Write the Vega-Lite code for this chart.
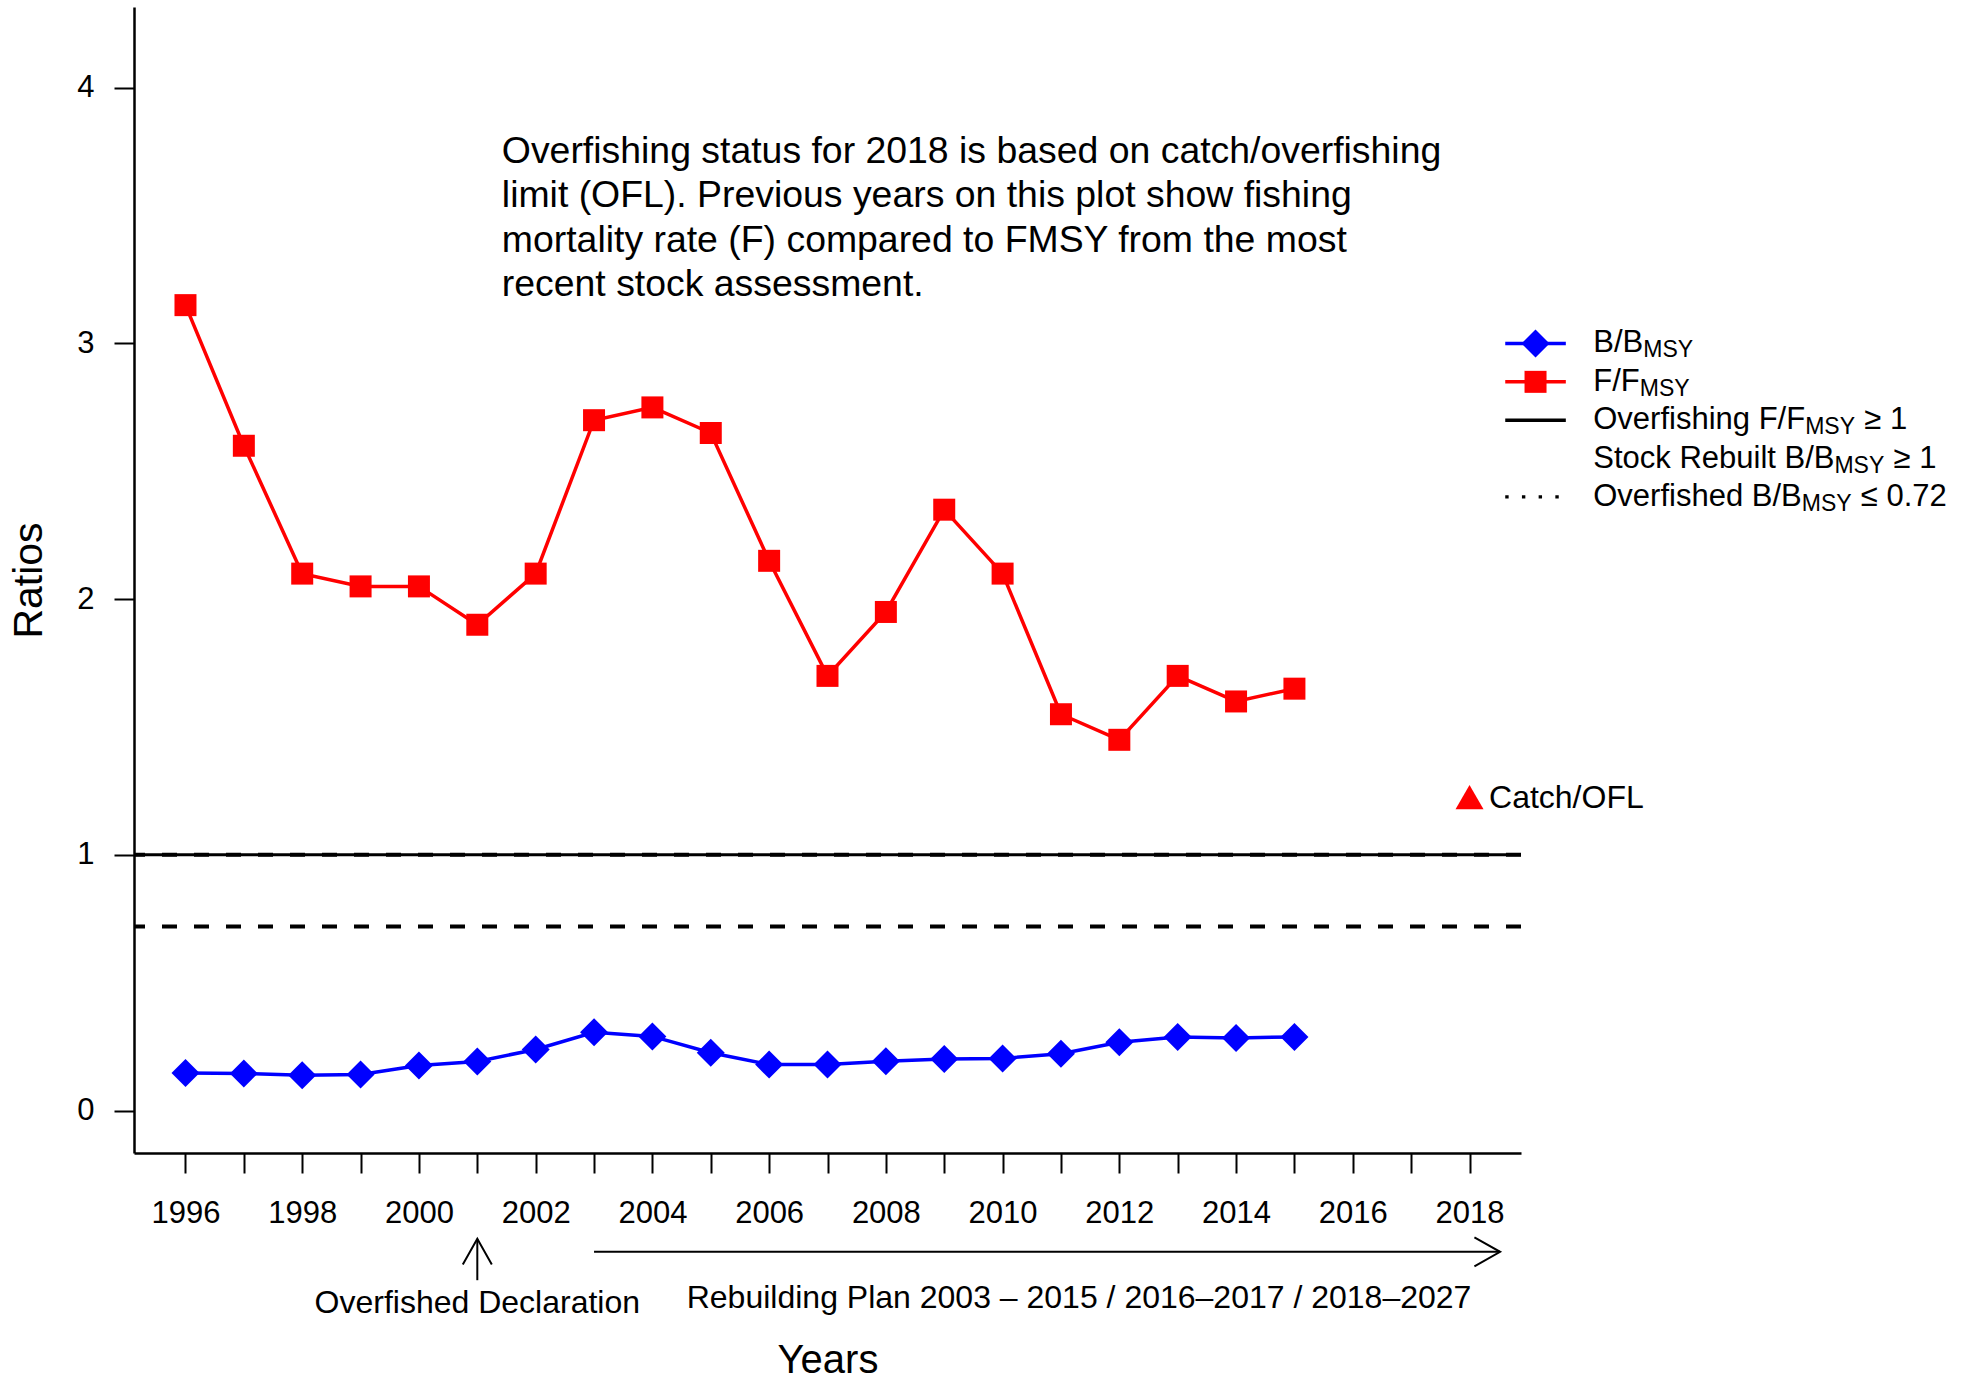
{
  "$schema": "https://vega.github.io/schema/vega-lite/v6.json",
  "width": 1387,
  "height": 1146,
  "autosize": {"type": "none"},
  "padding": {"left": 134, "top": 7, "right": 454, "bottom": 228},
  "background": "white",
  "config": {"view": {"stroke": null}, "font": "Liberation Sans", "text": {"font": "Liberation Sans", "color": "black"}},
  "datasets": {
    "series": [
      {"year": 1996, "series": "F/FMSY", "value": 3.15},
      {"year": 1997, "series": "F/FMSY", "value": 2.60},
      {"year": 1998, "series": "F/FMSY", "value": 2.10},
      {"year": 1999, "series": "F/FMSY", "value": 2.05},
      {"year": 2000, "series": "F/FMSY", "value": 2.05},
      {"year": 2001, "series": "F/FMSY", "value": 1.90},
      {"year": 2002, "series": "F/FMSY", "value": 2.10},
      {"year": 2003, "series": "F/FMSY", "value": 2.70},
      {"year": 2004, "series": "F/FMSY", "value": 2.75},
      {"year": 2005, "series": "F/FMSY", "value": 2.65},
      {"year": 2006, "series": "F/FMSY", "value": 2.15},
      {"year": 2007, "series": "F/FMSY", "value": 1.70},
      {"year": 2008, "series": "F/FMSY", "value": 1.95},
      {"year": 2009, "series": "F/FMSY", "value": 2.35},
      {"year": 2010, "series": "F/FMSY", "value": 2.10},
      {"year": 2011, "series": "F/FMSY", "value": 1.55},
      {"year": 2012, "series": "F/FMSY", "value": 1.45},
      {"year": 2013, "series": "F/FMSY", "value": 1.70},
      {"year": 2014, "series": "F/FMSY", "value": 1.60},
      {"year": 2015, "series": "F/FMSY", "value": 1.65},
      {"year": 1996, "series": "B/BMSY", "value": 0.147},
      {"year": 1997, "series": "B/BMSY", "value": 0.145},
      {"year": 1998, "series": "B/BMSY", "value": 0.138},
      {"year": 1999, "series": "B/BMSY", "value": 0.141},
      {"year": 2000, "series": "B/BMSY", "value": 0.176},
      {"year": 2001, "series": "B/BMSY", "value": 0.192},
      {"year": 2002, "series": "B/BMSY", "value": 0.239},
      {"year": 2003, "series": "B/BMSY", "value": 0.306},
      {"year": 2004, "series": "B/BMSY", "value": 0.290},
      {"year": 2005, "series": "B/BMSY", "value": 0.226},
      {"year": 2006, "series": "B/BMSY", "value": 0.180},
      {"year": 2007, "series": "B/BMSY", "value": 0.180},
      {"year": 2008, "series": "B/BMSY", "value": 0.193},
      {"year": 2009, "series": "B/BMSY", "value": 0.202},
      {"year": 2010, "series": "B/BMSY", "value": 0.204},
      {"year": 2011, "series": "B/BMSY", "value": 0.222},
      {"year": 2012, "series": "B/BMSY", "value": 0.267},
      {"year": 2013, "series": "B/BMSY", "value": 0.288},
      {"year": 2014, "series": "B/BMSY", "value": 0.284},
      {"year": 2015, "series": "B/BMSY", "value": 0.288}
    ]
  },
  "layer": [
    {
      "data": {"name": "series"},
      "mark": {"type": "line", "strokeWidth": 3.5},
      "encoding": {
        "x": {
          "field": "year", "type": "quantitative",
          "scale": {"domain": [1995.118, 2018.882], "nice": false, "zero": false},
          "axis": {
            "title": "Years",
            "values": [1996, 1997, 1998, 1999, 2000, 2001, 2002, 2003, 2004, 2005, 2006, 2007, 2008, 2009, 2010, 2011, 2012, 2013, 2014, 2015, 2016, 2017, 2018],
            "format": "d",
            "labelExpr": "datum.value % 2 === 0 ? datum.label : ''",
            "labelOverlap": false, "labelFlush": false, "labelBound": false,
            "labelFontSize": 31, "labelColor": "black", "labelPadding": 25, "labelFont": "Liberation Sans",
            "tickSize": 20, "tickWidth": 2, "tickColor": "black",
            "domainColor": "black", "domainWidth": 2.5,
            "grid": false,
            "titleFontSize": 40, "titleFontWeight": "normal", "titleColor": "black", "titlePadding": 112, "titleFont": "Liberation Sans"
          }
        },
        "y": {
          "field": "value", "type": "quantitative",
          "scale": {"domain": [-0.166, 4.316], "nice": false, "zero": false},
          "axis": {
            "title": "Ratios",
            "values": [0, 1, 2, 3, 4],
            "format": "d",
            "labelOverlap": false, "labelFlush": false, "labelBound": false,
            "labelFontSize": 31, "labelColor": "black", "labelPadding": 20, "labelFont": "Liberation Sans",
            "tickSize": 20, "tickWidth": 2, "tickColor": "black",
            "domainColor": "black", "domainWidth": 2.5,
            "grid": false,
            "titleFontSize": 41, "titleFontWeight": "normal", "titleColor": "black", "titlePadding": 26, "titleFont": "Liberation Sans"
          }
        },
        "color": {"field": "series", "type": "nominal", "scale": {"domain": ["B/BMSY", "F/FMSY"], "range": ["#0000FF", "#FF0000"]}, "legend": null}
      }
    },
    {
      "data": {"name": "series"},
      "transform": [{"filter": "datum.series === 'F/FMSY'"}],
      "mark": {"type": "point", "shape": "square", "filled": true, "size": 484, "opacity": 1, "color": "#FF0000"},
      "encoding": {
        "x": {"field": "year", "type": "quantitative"},
        "y": {"field": "value", "type": "quantitative"}
      }
    },
    {
      "data": {"name": "series"},
      "transform": [{"filter": "datum.series === 'B/BMSY'"}],
      "mark": {"type": "point", "shape": "diamond", "filled": true, "size": 784, "opacity": 1, "color": "#0000FF"},
      "encoding": {
        "x": {"field": "year", "type": "quantitative"},
        "y": {"field": "value", "type": "quantitative"}
      }
    },
    {
      "data": {"values": [{"ref": "Overfishing F/FMSY ≥ 1"}]},
      "mark": {"type": "rule", "color": "black", "strokeWidth": 3},
      "encoding": {"y": {"datum": 1, "type": "quantitative"}}
    },
    {
      "data": {"values": [{"ref": "Stock Rebuilt B/BMSY ≥ 1"}]},
      "mark": {"type": "rule", "color": "black", "strokeWidth": 4, "strokeDash": [15, 17]},
      "encoding": {"y": {"datum": 1, "type": "quantitative"}}
    },
    {
      "data": {"values": [{"ref": "Overfished B/BMSY ≤ 0.72"}]},
      "mark": {"type": "rule", "color": "black", "strokeWidth": 4, "strokeDash": [15, 17]},
      "encoding": {"y": {"datum": 0.72, "type": "quantitative"}}
    },
    {
      "data": {"values": [{"label": "Catch/OFL"}]},
      "mark": {"type": "point", "shape": "triangle-up", "filled": true, "size": 784, "opacity": 1, "color": "#FF0000"},
      "encoding": {"x": {"datum": 2018, "type": "quantitative"}, "y": {"datum": 1.226, "type": "quantitative"}}
    },
    {
      "data": {"values": [{"label": "Catch/OFL"}]},
      "mark": {"type": "text", "align": "left", "baseline": "middle", "dx": 19.5, "dy": 1, "fontSize": 32},
      "encoding": {"x": {"datum": 2018, "type": "quantitative"}, "y": {"datum": 1.226, "type": "quantitative"}, "text": {"field": "label"}}
    },
    {
      "data": {"values": [{"note": "Overfishing status for 2018 is based on catch/overfishing\nlimit (OFL). Previous years on this plot show fishing\nmortality rate (F) compared to FMSY from the most\nrecent stock assessment."}]},
      "mark": {"type": "text", "align": "left", "baseline": "alphabetic", "fontSize": 37.4, "lineBreak": "\n", "lineHeight": 44.5},
      "encoding": {"x": {"datum": 2001.42, "type": "quantitative"}, "y": {"datum": 3.706, "type": "quantitative"}, "text": {"field": "note"}}
    },
    {
      "data": {"values": [{"note": "Overfished Declaration"}]},
      "mark": {"type": "text", "align": "center", "baseline": "alphabetic", "fontSize": 32},
      "encoding": {"x": {"datum": 2001, "type": "quantitative"}, "y": {"datum": -0.79, "type": "quantitative"}, "text": {"field": "note"}}
    },
    {
      "data": {"values": [{"note": "Rebuilding Plan 2003 – 2015 / 2016–2017 / 2018–2027"}]},
      "mark": {"type": "text", "align": "center", "baseline": "alphabetic", "fontSize": 32},
      "encoding": {"x": {"datum": 2011.31, "type": "quantitative"}, "y": {"datum": -0.774, "type": "quantitative"}, "text": {"field": "note"}}
    },
    {
      "data": {"values": [{"note": "Overfished Declaration arrow"}]},
      "mark": {"type": "rule", "color": "black", "strokeWidth": 2},
      "encoding": {"x": {"datum": 2001, "type": "quantitative"}, "y": {"datum": -0.5017, "type": "quantitative"}, "y2": {"datum": -0.6635}}
    },
    {
      "data": {"values": [{"note": "Overfished Declaration arrow head"}]},
      "mark": {"type": "point", "shape": "M-1,1.772L0,0L1,1.772", "filled": false, "size": 841, "opacity": 1, "color": "black", "strokeWidth": 2},
      "encoding": {"x": {"datum": 2001, "type": "quantitative"}, "y": {"datum": -0.5017, "type": "quantitative"}}
    },
    {
      "data": {"values": [{"note": "Rebuilding Plan arrow"}]},
      "mark": {"type": "rule", "color": "black", "strokeWidth": 2},
      "encoding": {"x": {"datum": 2003, "type": "quantitative"}, "x2": {"datum": 2018.524}, "y": {"datum": -0.5525, "type": "quantitative"}}
    },
    {
      "data": {"values": [{"note": "Rebuilding Plan arrow head"}]},
      "mark": {"type": "point", "shape": "M-1.772,-1L0,0L-1.772,1", "filled": false, "size": 841, "opacity": 1, "color": "black", "strokeWidth": 2},
      "encoding": {"x": {"datum": 2018.524, "type": "quantitative"}, "y": {"datum": -0.5525, "type": "quantitative"}}
    },
    {
      "data": {"values": [{"key": "B/BMSY"}]},
      "mark": {"type": "rule", "color": "#0000FF", "strokeWidth": 3.5},
      "encoding": {"x": {"datum": 2018.612, "type": "quantitative"}, "x2": {"datum": 2019.65}, "y": {"datum": 3.0, "type": "quantitative"}}
    },
    {
      "data": {"values": [{"key": "B/BMSY"}]},
      "mark": {"type": "point", "shape": "diamond", "filled": true, "size": 784, "opacity": 1, "color": "#0000FF"},
      "encoding": {"x": {"datum": 2019.131, "type": "quantitative"}, "y": {"datum": 3.0, "type": "quantitative"}}
    },
    {
      "data": {"values": [{"key": "F/FMSY"}]},
      "mark": {"type": "rule", "color": "#FF0000", "strokeWidth": 3.5},
      "encoding": {"x": {"datum": 2018.612, "type": "quantitative"}, "x2": {"datum": 2019.65}, "y": {"datum": 2.85, "type": "quantitative"}}
    },
    {
      "data": {"values": [{"key": "F/FMSY"}]},
      "mark": {"type": "point", "shape": "square", "filled": true, "size": 484, "opacity": 1, "color": "#FF0000"},
      "encoding": {"x": {"datum": 2019.131, "type": "quantitative"}, "y": {"datum": 2.85, "type": "quantitative"}}
    },
    {
      "data": {"values": [{"key": "Overfishing"}]},
      "mark": {"type": "rule", "color": "black", "strokeWidth": 3.5},
      "encoding": {"x": {"datum": 2018.612, "type": "quantitative"}, "x2": {"datum": 2019.65}, "y": {"datum": 2.70, "type": "quantitative"}}
    },
    {
      "data": {"values": [{"key": "Overfished"}]},
      "mark": {"type": "rule", "color": "black", "strokeWidth": 3.4, "strokeDash": [3.4, 13.3]},
      "encoding": {"x": {"datum": 2018.612, "type": "quantitative"}, "x2": {"datum": 2019.65}, "y": {"datum": 2.40, "type": "quantitative"}}
    },
    {
      "data": {"values": [{"t": "B/B"}]},
      "mark": {"type": "text", "align": "left", "baseline": "middle", "fontSize": 31},
      "encoding": {"x": {"datum": 2020.12, "type": "quantitative"}, "y": {"datum": 3.0, "type": "quantitative"}, "text": {"field": "t"}}
    },
    {
      "data": {"values": [{"t": "F/F"}]},
      "mark": {"type": "text", "align": "left", "baseline": "middle", "fontSize": 31},
      "encoding": {"x": {"datum": 2020.12, "type": "quantitative"}, "y": {"datum": 2.85, "type": "quantitative"}, "text": {"field": "t"}}
    },
    {
      "data": {"values": [{"t": "Overfishing F/F"}]},
      "mark": {"type": "text", "align": "left", "baseline": "middle", "fontSize": 31},
      "encoding": {"x": {"datum": 2020.12, "type": "quantitative"}, "y": {"datum": 2.70, "type": "quantitative"}, "text": {"field": "t"}}
    },
    {
      "data": {"values": [{"t": "Stock Rebuilt B/B"}]},
      "mark": {"type": "text", "align": "left", "baseline": "middle", "fontSize": 31},
      "encoding": {"x": {"datum": 2020.12, "type": "quantitative"}, "y": {"datum": 2.55, "type": "quantitative"}, "text": {"field": "t"}}
    },
    {
      "data": {"values": [{"t": "Overfished B/B"}]},
      "mark": {"type": "text", "align": "left", "baseline": "middle", "fontSize": 31},
      "encoding": {"x": {"datum": 2020.12, "type": "quantitative"}, "y": {"datum": 2.40, "type": "quantitative"}, "text": {"field": "t"}}
    },
    {
      "data": {"values": [{"t": "MSY"}]},
      "mark": {"type": "text", "align": "left", "baseline": "middle", "fontSize": 23, "dx": 50.0, "dy": 7},
      "encoding": {"x": {"datum": 2020.12, "type": "quantitative"}, "y": {"datum": 3.0, "type": "quantitative"}, "text": {"field": "t"}}
    },
    {
      "data": {"values": [{"t": "MSY"}]},
      "mark": {"type": "text", "align": "left", "baseline": "middle", "fontSize": 23, "dx": 46.5, "dy": 7},
      "encoding": {"x": {"datum": 2020.12, "type": "quantitative"}, "y": {"datum": 2.85, "type": "quantitative"}, "text": {"field": "t"}}
    },
    {
      "data": {"values": [{"t": "MSY"}]},
      "mark": {"type": "text", "align": "left", "baseline": "middle", "fontSize": 23, "dx": 211.9, "dy": 7},
      "encoding": {"x": {"datum": 2020.12, "type": "quantitative"}, "y": {"datum": 2.70, "type": "quantitative"}, "text": {"field": "t"}}
    },
    {
      "data": {"values": [{"t": "MSY"}]},
      "mark": {"type": "text", "align": "left", "baseline": "middle", "fontSize": 23, "dx": 241.2, "dy": 7},
      "encoding": {"x": {"datum": 2020.12, "type": "quantitative"}, "y": {"datum": 2.55, "type": "quantitative"}, "text": {"field": "t"}}
    },
    {
      "data": {"values": [{"t": "MSY"}]},
      "mark": {"type": "text", "align": "left", "baseline": "middle", "fontSize": 23, "dx": 208.5, "dy": 7},
      "encoding": {"x": {"datum": 2020.12, "type": "quantitative"}, "y": {"datum": 2.40, "type": "quantitative"}, "text": {"field": "t"}}
    },
    {
      "data": {"values": [{"t": "≥ 1"}]},
      "mark": {"type": "text", "align": "left", "baseline": "middle", "fontSize": 31, "dx": 271},
      "encoding": {"x": {"datum": 2020.12, "type": "quantitative"}, "y": {"datum": 2.70, "type": "quantitative"}, "text": {"field": "t"}}
    },
    {
      "data": {"values": [{"t": "≥ 1"}]},
      "mark": {"type": "text", "align": "left", "baseline": "middle", "fontSize": 31, "dx": 300.3},
      "encoding": {"x": {"datum": 2020.12, "type": "quantitative"}, "y": {"datum": 2.55, "type": "quantitative"}, "text": {"field": "t"}}
    },
    {
      "data": {"values": [{"t": "≤ 0.72"}]},
      "mark": {"type": "text", "align": "left", "baseline": "middle", "fontSize": 31, "dx": 267.6},
      "encoding": {"x": {"datum": 2020.12, "type": "quantitative"}, "y": {"datum": 2.40, "type": "quantitative"}, "text": {"field": "t"}}
    }
  ]
}
